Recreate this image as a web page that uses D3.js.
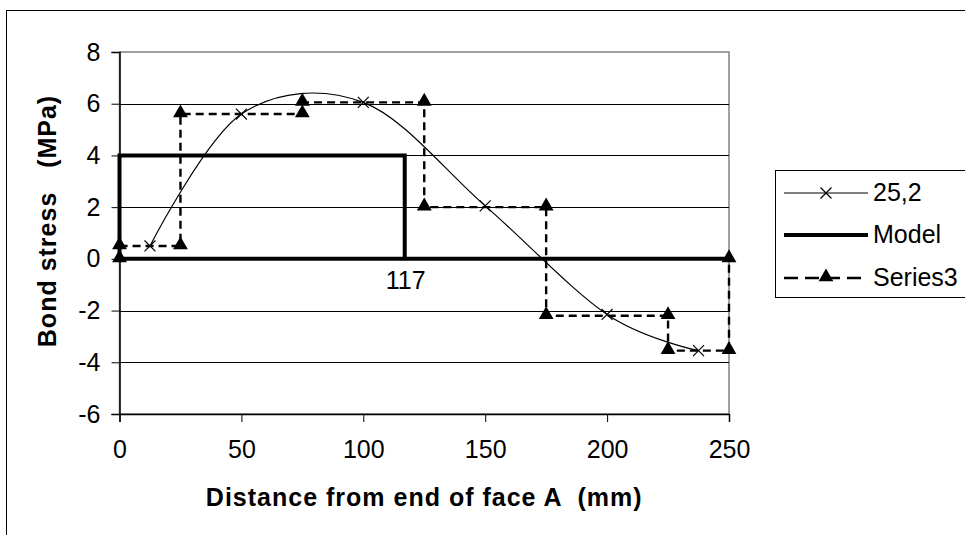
<!DOCTYPE html>
<html><head><meta charset="utf-8">
<script src="https://cdn.jsdelivr.net/npm/d3@7"></script>
<style>body{margin:0;background:#fff}svg{display:block;font-family:"Liberation Sans",Arial,sans-serif}</style>
</head><body>
<svg id="c" width="965" height="535"></svg>
<script>
const xTicks = [0, 50, 100, 150, 200, 250];
const yTicks = [-6, -4, -2, 0, 2, 4, 6, 8];
const s1x = [12.5, 50, 100, 150, 200, 237.5];
const s1y = [0.5, 5.6, 6.05, 2.05, -2.15, -3.55];
const modelX = [250, 0, 0, 117, 117];
const modelY = [0, 0, 4, 4, 0];
const s3x = [0, 0, 25, 25, 75, 75, 125, 125, 175, 175, 225, 225, 250, 250];
const s3y = [0, 0.5, 0.5, 5.6, 5.6, 6.05, 6.05, 2.0, 2.0, -2.2, -2.2, -3.55, -3.55, 0];
const seriesNames = ["25,2", "Model", "Series3"];
const markLabel = {x: 117, y: 0, text: "117"};

const FS = 25;
const svg = d3.select("#c");
const L = 119.5, R = 729, T = 52, B = 414;
const x = d3.scaleLinear().domain([0, 250]).range([L, R]);
const y = d3.scaleLinear().domain([-6, 8]).range([B, T]);

// outer frame
svg.append("rect").attr("x", 6.5).attr("y", 10.5).attr("width", 1000).attr("height", 1000)
  .attr("fill", "none").attr("stroke", "#000").attr("stroke-width", 1);

// plot border (gray)
svg.append("rect").attr("x", L).attr("y", T).attr("width", R - L).attr("height", B - T)
  .attr("fill", "none").attr("stroke", "#808080").attr("stroke-width", 1.5);

// gridlines
svg.append("g").selectAll("line").data(yTicks.filter(d => d > -6 && d < 8)).join("line")
  .attr("x1", L).attr("x2", R).attr("y1", d => Math.round(y(d)) + 0.5).attr("y2", d => Math.round(y(d)) + 0.5)
  .attr("stroke", "#000").attr("stroke-width", 1);

// axes
const yAx = svg.append("g").attr("transform", `translate(${L},0)`)
  .call(d3.axisLeft(y).tickValues(yTicks).tickSize(8).tickPadding(11).tickFormat(d3.format("d")));
const xAx = svg.append("g").attr("transform", `translate(0,${B})`)
  .call(d3.axisBottom(x).tickValues(xTicks).tickSize(8).tickPadding(18));
[yAx, xAx].forEach(a => {
  a.attr("font-size", FS).attr("font-family", "Liberation Sans, Arial, sans-serif");
  a.select(".domain").attr("stroke", "#000").attr("stroke-width", 1.5);
  a.selectAll(".tick line").attr("stroke", "#000");
  a.selectAll("text").attr("fill", "#000");
});
yAx.selectAll("text").text(d => d < 0 ? "-" + Math.abs(d) : d);

// titles
svg.append("text").attr("x", (L + R) / 2).attr("y", 506).attr("text-anchor", "middle")
  .attr("font-size", FS).attr("font-weight", "bold").attr("letter-spacing", 1).style("white-space", "pre")
  .text("Distance from end of face A  (mm)");
svg.append("text").attr("transform", `translate(56,${(T + B) / 2 - 12}) rotate(-90)`).attr("text-anchor", "middle")
  .attr("font-size", FS).attr("font-weight", "bold").attr("letter-spacing", 1).style("white-space", "pre")
  .text("Bond stress   (MPa)");

const lineGen = d3.line().x(d => x(d[0])).y(d => y(d[1]));

// Model
svg.append("path").datum(modelX.map((v, i) => [v, modelY[i]]))
  .attr("d", lineGen).attr("fill", "none").attr("stroke", "#000").attr("stroke-width", 4).attr("stroke-linejoin", "miter");

// Series3
const s3 = s3x.map((v, i) => [v, s3y[i]]);
svg.append("path").datum(s3).attr("d", lineGen).attr("fill", "none").attr("stroke", "#000")
  .attr("stroke-width", 2.4).attr("stroke-dasharray", "8,5");
const tri = d3.symbol().type(d3.symbolTriangle).size(95);
svg.append("g").selectAll("path").data(s3).join("path")
  .attr("transform", d => `translate(${x(d[0])},${y(d[1]) - 1})`).attr("d", tri).attr("fill", "#000");

// 25,2
const s1 = s1x.map((v, i) => [v, s1y[i]]);
svg.append("path").datum(s1).attr("d", d3.line().x(d => x(d[0])).y(d => y(d[1])).curve(d3.curveCardinal.tension(0)))
  .attr("fill", "none").attr("stroke", "#000").attr("stroke-width", 1.2);
const cross = d3.symbol().type(d3.symbolX).size(80);
svg.append("g").selectAll("path").data(s1).join("path")
  .attr("transform", d => `translate(${x(d[0])},${y(d[1])})`).attr("d", cross)
  .attr("fill", "none").attr("stroke", "#000").attr("stroke-width", 1.2);

// 117 label
svg.append("text").attr("x", x(markLabel.x) + 1).attr("y", y(markLabel.y) + 30).attr("text-anchor", "middle")
  .attr("font-size", FS).text(markLabel.text);

// legend
const lg = svg.append("g");
lg.append("rect").attr("x", 775.5).attr("y", 170.5).attr("width", 300).attr("height", 127)
  .attr("fill", "#fff").attr("stroke", "#000").attr("stroke-width", 1);
const ly = [193, 235, 278];
const lx1 = 784, lx2 = 868;
// 25,2
lg.append("line").attr("x1", lx1).attr("x2", lx2).attr("y1", ly[0]).attr("y2", ly[0]).attr("stroke", "#000").attr("stroke-width", 1.2);
lg.append("path").attr("transform", `translate(${(lx1 + lx2) / 2},${ly[0]})`).attr("d", cross).attr("fill", "none").attr("stroke", "#000").attr("stroke-width", 1.2);
// Model
lg.append("line").attr("x1", lx1).attr("x2", lx2).attr("y1", ly[1]).attr("y2", ly[1]).attr("stroke", "#000").attr("stroke-width", 4);
// Series3
lg.append("line").attr("x1", lx1).attr("x2", lx2).attr("y1", ly[2]).attr("y2", ly[2]).attr("stroke", "#000").attr("stroke-width", 2.4).attr("stroke-dasharray", "14,7");
lg.append("path").attr("transform", `translate(${(lx1 + lx2) / 2},${ly[2] - 1})`).attr("d", tri).attr("fill", "#000");
lg.selectAll("text.l").data(seriesNames).join("text").attr("class", "l")
  .attr("x", 873).attr("y", (d, i) => ly[i] + 8).attr("font-size", FS).text(d => d);
</script>
</body></html>
